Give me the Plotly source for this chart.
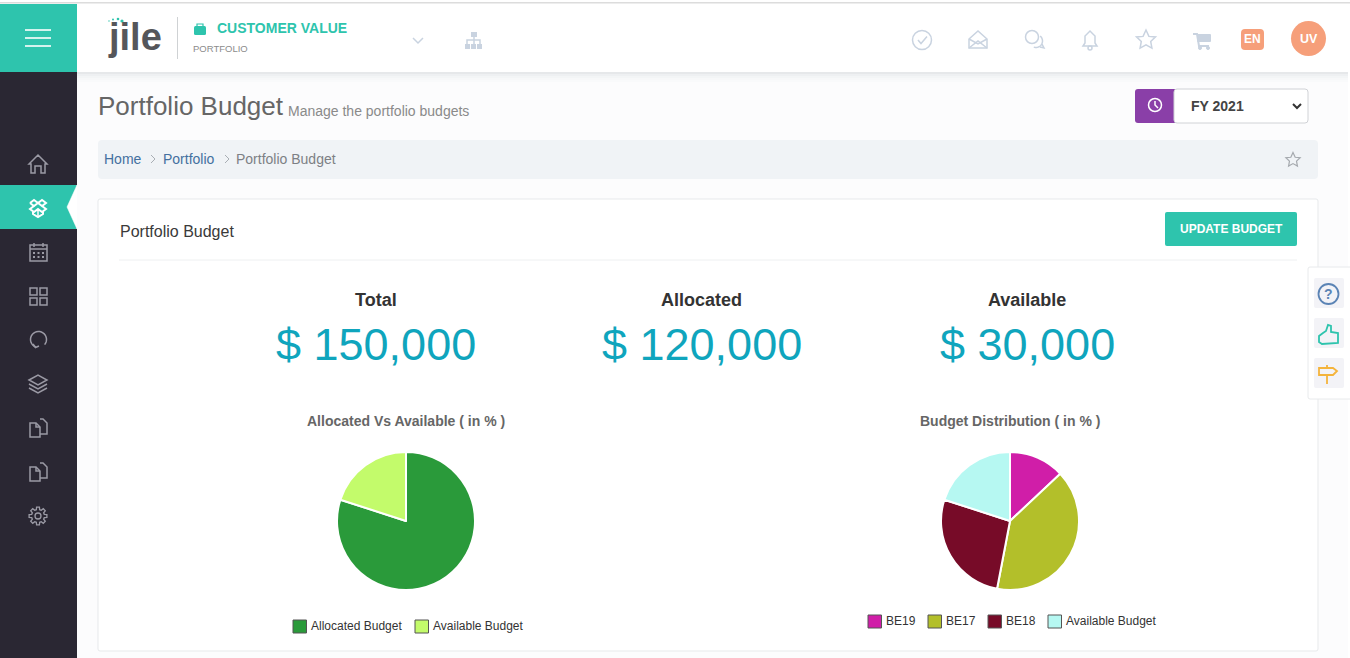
import math
import plotly.graph_objects as go

# chart data
alloc_labels = ['Allocated Budget', 'Available Budget']
alloc_values = [80, 20]
alloc_colors = ['#2a9a3a', '#c3fb6b']

dist_labels = ['BE19', 'BE17', 'BE18', 'Available Budget']
dist_values = [13, 40, 27, 20]
dist_colors = ['#d01ea8', '#b3bf2a', '#770b28', '#b6f8f2']

kpi_names = ['Total', 'Allocated', 'Available']
kpi_values = ['$ 150,000', '$ 120,000', '$ 30,000']

W, H = 1350, 658
TEAL = '#2ec4ad'
DARK = '#2a2733'
ICON = '#c9d3e0'
NAV = '#9b9aa5'

shapes = []
notes = []


def rect(x0, y0, x1, y1, fill, line=None, lw=1):
    shapes.append(dict(type='rect', x0=x0, y0=y0, x1=x1, y1=y1, fillcolor=fill,
                       line=dict(color=line or fill, width=lw if line else 0), layer='below'))


def rrect(x0, y0, x1, y1, r, fill, line=None, lw=1):
    p = (f'M {x0+r} {y0} L {x1-r} {y0} Q {x1} {y0} {x1} {y0+r} L {x1} {y1-r} Q {x1} {y1} {x1-r} {y1} '
         f'L {x0+r} {y1} Q {x0} {y1} {x0} {y1-r} L {x0} {y0+r} Q {x0} {y0} {x0+r} {y0} Z')
    shapes.append(dict(type='path', path=p, fillcolor=fill,
                       line=dict(color=line or fill, width=lw if line else 0), layer='below'))


def poly(pts, color, lw=1.5, fill=None, close=False):
    p = 'M ' + ' L '.join(f'{x} {y}' for x, y in pts) + (' Z' if close else '')
    shapes.append(dict(type='path', path=p, fillcolor=fill or 'rgba(0,0,0,0)',
                       line=dict(color=color, width=lw), layer='below'))


def circle(cx, cy, r, color, lw=1.5, fill=None):
    shapes.append(dict(type='circle', x0=cx-r, y0=cy-r, x1=cx+r, y1=cy+r,
                       fillcolor=fill or 'rgba(0,0,0,0)',
                       line=dict(color=color, width=lw), layer='below'))


def arc(cx, cy, r, a0, a1, color, lw=1.5):
    pts = []
    for i in range(25):
        a = math.radians(a0 + (a1-a0)*i/24)
        pts.append((round(cx+r*math.cos(a), 2), round(cy+r*math.sin(a), 2)))
    poly(pts, color, lw)


def gear(cx, cy, color):
    pts = []
    for i in range(8):
        a = i*45
        for da, r in [(-15, 6.5), (-9, 9), (9, 9), (15, 6.5)]:
            t = math.radians(a+da)
            pts.append((round(cx+r*math.cos(t), 2), round(cy+r*math.sin(t), 2)))
    poly(pts, color, 1.3, close=True)
    circle(cx, cy, 3, color, 1.3)


def text(x, y, s, size, color, anchor='left', bold=False, font='Liberation Sans'):
    if bold:
        s = f'<b>{s}</b>'
    if anchor == 'left':
        x -= 1
    notes.append(dict(x=x, y=y, text=s, showarrow=False, xanchor=anchor, yanchor='middle',
                      borderpad=0, font=dict(family=font, size=size, color=color)))


def star(cx, cy, r, color, lw=1.5):
    outer = [(0, -1), (.29, -.36), (.95, -.31), (.47, .15), (.59, .81), (0, .48),
             (-.59, .81), (-.47, .15), (-.95, -.31), (-.29, -.36)]
    poly([(cx+a*r, cy+b*r) for a, b in outer], color, lw, close=True)


def legend_row(labels, colors, swatch_x, y):
    for label, color, x in zip(labels, colors, swatch_x):
        rect(x, y-6.5, x+13.5, y+6.5, color, '#555555', 1)
        text(x+17.5, y-1, label, 12, '#333333')


# page background
rect(0, 0, W, H, '#ffffff')
rect(77, 72, 1348, 658, '#fcfcfd')
for i, c in enumerate(['#e6e8ea', '#eef0f2', '#f3f5f6', '#f7f8f9', '#f9fafb']):
    rect(77, 72+i*2, 1348, 74+i*2, c)
rect(0, 2, 1350, 3.5, '#dcdcdc')

# sidebar
rect(0, 72, 77, 658, DARK)
rect(0, 4, 77, 72, TEAL)
for y in [30, 38, 46]:
    rect(25, y-.8, 51, y+.8, '#ffffff')
rect(0, 185, 77, 229, TEAL)
poly([(77, 185), (67, 207), (77, 229)], '#ffffff', 0.5, fill='#ffffff', close=True)

# sidebar icons
poly([(29, 164), (38, 155), (47, 164), (45, 164), (45, 173), (41, 173), (41, 166), (35, 166), (35, 173), (31, 173), (31, 164)], NAV, close=True)
poly([(30, 203), (34, 200), (38, 203), (42, 200), (46, 203), (42, 206), (38, 203), (34, 206), (30, 203)], '#ffffff', 2)
poly([(34, 206), (30, 209), (34, 212), (38, 209), (42, 212), (46, 209), (42, 206)], '#ffffff', 2)
poly([(33, 212), (33, 214), (38, 217), (43, 214), (43, 212)], '#ffffff', 2)
poly([(38, 209), (38, 217)], '#ffffff', 1.5)
rect(30, 245, 47, 261, 'rgba(0,0,0,0)', NAV, 1.5)
poly([(30, 249), (47, 249)], NAV)
poly([(34, 243), (34, 247)], NAV)
poly([(43, 243), (43, 247)], NAV)
for a in [34, 38.5, 43]:
    for b in [253, 257]:
        rect(a-1, b-1, a+1, b+1, NAV)
for a, b in [(30, 288), (40, 288), (30, 298), (40, 298)]:
    rect(a, b, a+7, b+7, 'rgba(0,0,0,0)', NAV, 1.5)
arc(38.5, 339.5, 8, 110, 400, NAV)
poly([(33, 344), (35.5, 347.5), (39, 346)], NAV)
poly([(29, 380), (38, 375), (47, 380), (38, 385), (29, 380)], NAV, close=True)
poly([(29, 384), (38, 389), (47, 384)], NAV)
poly([(29, 388), (38, 393), (47, 388)], NAV)
for y in [428, 472]:
    poly([(30, y-5), (36, y-5), (40, y-1), (40, y+9), (30, y+9)], NAV, close=True)
    poly([(40, y-9), (43, y-9), (47, y-5), (47, y+6), (40, y+6)], NAV)
    poly([(36, y-5), (36, y-1), (40, y-1)], NAV)
gear(38, 516, NAV)

# top bar: logo and project title
rect(77, 4, 1348, 72, '#ffffff')
text(108, 37, 'jile', 38, '#55565a', bold=True)
for a, b, r in [(109, 21, .7), (113, 19.5, 1), (118, 19, 1.3), (122, 21, 1.6)]:
    circle(a, b, r, TEAL, 0, fill=TEAL)
poly([(177.5, 17), (177.5, 59)], '#cfd2d4', 1)
rrect(194, 26, 206, 35, 1.5, TEAL)
poly([(197, 26), (197, 24), (203, 24), (203, 26)], TEAL, 1.2)
text(217, 28, 'CUSTOMER VALUE', 14, TEAL, bold=True)
text(193, 48, 'PORTFOLIO', 9.5, '#8c8c8c')
poly([(413, 38), (418, 43), (423, 38)], ICON)
for a, b, w in [(471, 32, 6), (465, 44, 5), (471, 44, 5), (477, 44, 5)]:
    rect(a, b, a+w, b+5, ICON)
poly([(474, 37), (474, 44)], ICON)
poly([(467, 44), (467, 40), (480, 40), (480, 44)], ICON)

# top bar: right icons
circle(922, 40, 9.5, ICON)
poly([(918, 40), (921, 43.5), (927, 36.5)], ICON)
poly([(969, 39), (978, 31), (987, 39), (987, 48), (969, 48)], ICON, close=True)
poly([(969, 39), (978, 44), (987, 39)], ICON)
poly([(969, 48), (978, 41), (987, 48)], ICON)
circle(1032, 37, 6.5, ICON)
arc(1036, 41, 6.5, -50, 110, ICON)
poly([(1040, 47), (1044, 48), (1042, 44)], ICON)
poly([(1083, 46), (1085, 43), (1085, 36), (1090, 31), (1095, 36), (1095, 43), (1097, 46)], ICON, close=True)
circle(1090, 48, 2, ICON)
star(1146, 40, 10, ICON)
poly([(1193, 34), (1197, 34), (1199, 46), (1209, 46)], ICON, 2)
rrect(1197, 34, 1211, 42, 1, ICON)
circle(1200, 48, 1.5, ICON, 1, fill=ICON)
circle(1208, 48, 1.5, ICON, 1, fill=ICON)
rrect(1241, 29, 1264, 50, 4, '#f69f7a')
text(1252.5, 39, 'EN', 12, '#ffffff', anchor='center', bold=True)
circle(1308.5, 38.5, 17.5, '#f69f7a', 0, fill='#f69f7a')
text(1308.5, 38.5, 'UV', 12.5, '#ffffff', anchor='center', bold=True)

# page heading
text(98, 106, 'Portfolio Budget', 26, '#666666')
text(288, 111, 'Manage the portfolio budgets', 14, '#8a8a8a')
rrect(1135, 89, 1178, 123, 3, '#8a3fa8')
rrect(1174, 89, 1308, 123, 3, '#ffffff', '#d0d2d6', 1)
circle(1155, 105, 6.5, '#ffffff', 1.5)
poly([(1155, 101), (1155, 105), (1158, 108)], '#ffffff')
text(1217, 106, 'FY 2021', 14, '#444444', anchor='center', bold=True)
poly([(1293, 104), (1297, 108), (1301, 104)], '#333333', 2)

# breadcrumb
rrect(98, 140, 1318, 179, 4, '#f0f3f6')
text(104, 159, 'Home', 14, '#44709f')
poly([(151, 155), (155, 159), (151, 163)], '#a9aeb4', 1)
text(163, 159, 'Portfolio', 14, '#44709f')
poly([(225, 155), (229, 159), (225, 163)], '#a9aeb4', 1)
text(236, 159, 'Portfolio Budget', 14, '#7d8085')
star(1293, 160, 7.5, '#a5a9ae', 1.2)

# card
rrect(98, 199, 1318, 651, 2, '#ffffff', '#e7e9eb', 1)
text(120, 231, 'Portfolio Budget', 16, '#3a3a3a')
rrect(1165, 212, 1297, 246, 2, TEAL)
text(1231, 228.5, 'UPDATE BUDGET', 12, '#ffffff', anchor='center', bold=True)
poly([(119, 260), (1297, 260)], '#eef0f1', 1)

# KPI figures
for cx, name, val in zip([376, 701.5, 1027], kpi_names, kpi_values):
    text(cx, 300, name, 18, '#333333', anchor='center', bold=True)
    text(cx, 344, val, 45, '#0fa5bd', anchor='center')

text(406, 421, 'Allocated Vs Available ( in % )', 14, '#666666', anchor='center', bold=True)
text(1010, 421, 'Budget Distribution ( in % )', 14, '#666666', anchor='center', bold=True)

legend_row(alloc_labels, alloc_colors, [293, 415], 626.5)
legend_row(dist_labels, dist_colors, [868, 928, 988, 1048], 621.5)

# floating help panel
rrect(1308, 267, 1352, 399, 2, '#ffffff', '#e8eaec', 1)
for y in [278, 318, 358]:
    rrect(1314, y, 1344, y+30, 2, '#f3f3f7')
circle(1328.5, 294, 10, '#5b84b5', 1.8)
text(1328.5, 294, '?', 14, '#5b84b5', anchor='center', bold=True)
poly([(1319, 336), (1323, 333), (1326, 331), (1328, 325), (1331, 326), (1331, 332), (1338, 333), (1338, 343), (1322, 344), (1319, 342)],
     TEAL, 1.8, close=True)
poly([(1319, 368), (1333, 368), (1337, 371), (1333, 375), (1319, 375)], '#f4b43c', 1.8, close=True)
poly([(1327, 365), (1327, 368)], '#f4b43c', 1.8)
poly([(1327, 375), (1327, 384)], '#f4b43c', 1.8)

fig = go.Figure()

# empty trace so the pixel axes below exist for shapes and text
fig.add_trace(go.Scatter(x=[], y=[], showlegend=False, hoverinfo='skip'))

fig.add_trace(go.Pie(labels=alloc_labels, values=alloc_values, sort=False,
                     direction='clockwise', rotation=0, textinfo='none',
                     marker=dict(colors=alloc_colors, line=dict(color='#ffffff', width=2)),
                     domain=dict(x=[337/W, 475/W], y=[1-590/H, 1-452/H]),
                     showlegend=False))
fig.add_trace(go.Pie(labels=dist_labels, values=dist_values, sort=False,
                     direction='clockwise', rotation=0, textinfo='none',
                     marker=dict(colors=dist_colors, line=dict(color='#ffffff', width=2)),
                     domain=dict(x=[941/W, 1079/W], y=[1-590/H, 1-452/H]),
                     showlegend=False))

fig.update_layout(
    width=W, height=H, autosize=False,
    margin=dict(l=0, r=0, t=0, b=0),
    paper_bgcolor='#ffffff', plot_bgcolor='rgba(0,0,0,0)',
    xaxis=dict(range=[0, W], visible=False, fixedrange=True, domain=[0, 1]),
    yaxis=dict(range=[H, 0], visible=False, fixedrange=True, domain=[0, 1]),
    shapes=shapes, annotations=notes,
    showlegend=False,
)

fig.write_html('out.html', config=dict(displayModeBar=False),
               post_script="document.body.style.margin='0';document.body.style.overflow='hidden';")
